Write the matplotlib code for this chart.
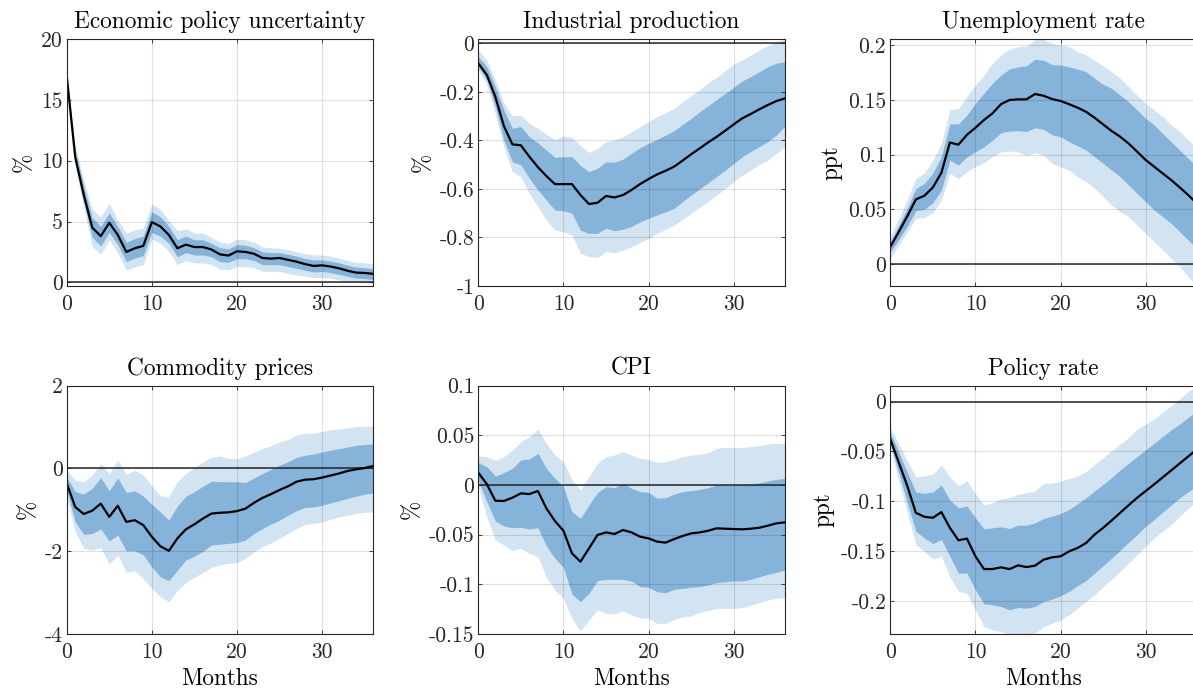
import matplotlib
matplotlib.use("Agg")
import matplotlib.pyplot as plt
from matplotlib.ticker import FuncFormatter
import numpy as np

plt.rcParams['font.family'] = 'cmr10'
plt.rcParams['axes.unicode_minus'] = False
plt.rcParams['mathtext.fontset'] = 'cm'

months = np.arange(37)

# Economic policy uncertainty
epu_med = [17.0, 10.3, 7.2, 4.5, 3.8, 4.9, 3.9, 2.5, 2.8, 3.0, 4.95, 4.6, 3.9, 2.8, 3.1, 2.9, 2.9,
           2.7, 2.3, 2.2, 2.55, 2.5, 2.35, 2.0, 1.95, 2.0, 1.85, 1.7, 1.5, 1.35, 1.4, 1.3, 1.15,
           0.95, 0.8, 0.77, 0.7]
epu_d_lo = [17.0, 9.8, 6.6, 3.7, 3.0, 4.1, 3.1, 1.7, 2.0, 2.2, 4.1, 3.8, 3.2, 2.1, 2.45, 2.25, 2.25,
            2.1, 1.7, 1.65, 1.95, 1.95, 1.8, 1.45, 1.45, 1.45, 1.3, 1.15, 1.0, 0.85, 0.9, 0.8, 0.65,
            0.5, 0.35, 0.3, 0.25]
epu_d_hi = [17.0, 10.9, 7.9, 5.3, 4.6, 5.7, 4.6, 3.3, 3.6, 3.8, 5.8, 5.4, 4.6, 3.5, 3.8, 3.5, 3.5,
            3.2, 2.85, 2.75, 3.1, 3.05, 2.85, 2.5, 2.45, 2.45, 2.3, 2.15, 1.95, 1.85, 1.85, 1.75, 1.6,
            1.4, 1.25, 1.2, 1.1]
epu_l_lo = [17.0, 9.5, 6.2, 2.95, 2.3, 3.5, 2.4, 1.0, 1.3, 1.45, 3.55, 3.2, 2.55, 1.45, 1.8, 1.6, 1.6,
            1.45, 1.1, 1.05, 1.3, 1.3, 1.2, 0.9, 0.9, 0.9, 0.75, 0.6, 0.5, 0.4, 0.4, 0.35, 0.2,
            0.1, 0.0, -0.05, -0.1]
epu_l_hi = [17.0, 11.2, 8.4, 6.0, 5.4, 6.5, 5.1, 4.05, 4.3, 4.45, 6.45, 6.0, 5.1, 4.25, 4.4, 4.05, 4.05,
            3.7, 3.3, 3.2, 3.55, 3.5, 3.3, 2.9, 2.85, 2.8, 2.7, 2.5, 2.35, 2.25, 2.25, 2.15, 2.0,
            1.8, 1.65, 1.6, 1.5]

# Industrial production
ip_med = [-0.082, -0.13, -0.22, -0.34, -0.416, -0.42, -0.467, -0.51, -0.547, -0.58, -0.58, -0.58,
          -0.625, -0.662, -0.657, -0.629, -0.635, -0.625, -0.604, -0.58, -0.559, -0.54, -0.525,
          -0.508, -0.483, -0.457, -0.433, -0.408, -0.385, -0.36, -0.334, -0.309, -0.291, -0.272,
          -0.254, -0.238, -0.227]
ip_d_lo = [-0.096, -0.151, -0.26, -0.398, -0.488, -0.501, -0.556, -0.604, -0.646, -0.687, -0.69,
           -0.70, -0.77, -0.783, -0.783, -0.762, -0.772, -0.766, -0.755, -0.735, -0.721, -0.707,
           -0.694, -0.68, -0.652, -0.625, -0.60, -0.574, -0.549, -0.522, -0.495, -0.467, -0.446,
           -0.426, -0.405, -0.378, -0.341]
ip_d_hi = [-0.055, -0.096, -0.18, -0.275, -0.35, -0.343, -0.385, -0.41, -0.44, -0.47, -0.467,
           -0.467, -0.504, -0.529, -0.515, -0.488, -0.49, -0.477, -0.453, -0.43, -0.412, -0.396,
           -0.378, -0.36, -0.334, -0.309, -0.282, -0.257, -0.231, -0.206, -0.181, -0.155, -0.137,
           -0.117, -0.096, -0.082, -0.076]
ip_l_lo = [-0.11, -0.17, -0.29, -0.426, -0.529, -0.55, -0.618, -0.673, -0.728, -0.77, -0.776,
           -0.79, -0.865, -0.879, -0.882, -0.858, -0.862, -0.852, -0.838, -0.821, -0.804, -0.783,
           -0.766, -0.749, -0.725, -0.70, -0.676, -0.651, -0.625, -0.598, -0.57, -0.543, -0.522,
           -0.499, -0.481, -0.453, -0.426]
ip_l_hi = [-0.027, -0.069, -0.151, -0.247, -0.298, -0.295, -0.33, -0.35, -0.375, -0.398, -0.382,
           -0.387, -0.422, -0.45, -0.433, -0.405, -0.398, -0.385, -0.364, -0.343, -0.323, -0.302,
           -0.286, -0.268, -0.24, -0.216, -0.19, -0.162, -0.14, -0.113, -0.085, -0.069, -0.048,
           -0.027, -0.01, 0.007, 0.016]

# Unemployment rate
ur_med = [0.0158, 0.0295, 0.0438, 0.059, 0.0624, 0.070, 0.0834, 0.111, 0.109, 0.118, 0.1245,
          0.1315, 0.1376, 0.146, 0.1498, 0.1504, 0.1504, 0.1553, 0.1537, 0.1507, 0.1489, 0.146,
          0.1428, 0.139, 0.1336, 0.1275, 0.1215, 0.1163, 0.110, 0.1026, 0.095, 0.0889, 0.0828,
          0.0767, 0.070, 0.063, 0.0554]
ur_d_lo = [0.0113, 0.0225, 0.0347, 0.0487, 0.050, 0.056, 0.0676, 0.095, 0.0904, 0.098, 0.1026,
           0.107, 0.113, 0.12, 0.1215, 0.1218, 0.121, 0.1245, 0.123, 0.118, 0.1163, 0.1117, 0.108,
           0.104, 0.098, 0.092, 0.0858, 0.0798, 0.0721, 0.0645, 0.0569, 0.0493, 0.0432, 0.0371,
           0.0295, 0.0219, 0.0143]
ur_d_hi = [0.0204, 0.0356, 0.0508, 0.069, 0.0737, 0.083, 0.098, 0.128, 0.128, 0.136, 0.1467,
           0.156, 0.165, 0.1726, 0.178, 0.180, 0.181, 0.187, 0.186, 0.182, 0.1817, 0.180, 0.178,
           0.1756, 0.1696, 0.164, 0.1604, 0.1543, 0.148, 0.1406, 0.133, 0.127, 0.119, 0.1117,
           0.104, 0.0965, 0.0889]
ur_l_lo = [0.0052, 0.0174, 0.0295, 0.0417, 0.0426, 0.0469, 0.0584, 0.083, 0.078, 0.0843, 0.0889,
           0.0928, 0.098, 0.1026, 0.1032, 0.1026, 0.099, 0.1017, 0.0995, 0.092, 0.0889, 0.0858,
           0.0798, 0.0752, 0.0691, 0.0615, 0.0539, 0.0478, 0.0432, 0.0356, 0.028, 0.0204, 0.0128,
           0.0052, -0.0024, -0.0116, -0.0207]
ur_l_hi = [0.025, 0.0417, 0.059, 0.078, 0.083, 0.095, 0.110, 0.141, 0.142, 0.153, 0.1635, 0.1726,
           0.1833, 0.191, 0.196, 0.1985, 0.199, 0.205, 0.205, 0.2015, 0.2, 0.1985, 0.194, 0.191,
           0.186, 0.181, 0.1756, 0.1696, 0.162, 0.154, 0.1467, 0.1406, 0.1345, 0.127, 0.121,
           0.113, 0.107]

# Commodity prices
cp_med = [-0.36, -0.93, -1.10, -1.02, -0.85, -1.17, -0.90, -1.29, -1.25, -1.37, -1.65, -1.88,
          -1.99, -1.69, -1.47, -1.35, -1.21, -1.09, -1.07, -1.06, -1.03, -0.97, -0.83, -0.71,
          -0.62, -0.52, -0.43, -0.32, -0.27, -0.26, -0.22, -0.17, -0.12, -0.06, -0.02, 0.01, 0.06]
cp_d_lo = [-0.52, -1.29, -1.59, -1.57, -1.46, -1.75, -1.61, -1.99, -1.99, -2.09, -2.38, -2.62,
           -2.71, -2.46, -2.21, -2.12, -2.0, -1.85, -1.83, -1.81, -1.79, -1.73, -1.57, -1.45,
           -1.34, -1.25, -1.13, -1.02, -0.94, -0.93, -0.89, -0.83, -0.78, -0.72, -0.67, -0.62,
           -0.59]
cp_d_hi = [-0.2, -0.56, -0.62, -0.48, -0.22, -0.54, -0.23, -0.58, -0.54, -0.67, -0.87, -1.05,
           -1.25, -0.91, -0.67, -0.56, -0.43, -0.31, -0.32, -0.32, -0.32, -0.34, -0.23, -0.12,
           -0.02, 0.08, 0.16, 0.27, 0.32, 0.35, 0.40, 0.44, 0.48, 0.52, 0.56, 0.58, 0.59]
cp_l_lo = [-0.68, -1.53, -1.93, -1.97, -1.91, -2.31, -2.09, -2.51, -2.47, -2.66, -2.90, -3.10,
           -3.22, -2.95, -2.75, -2.63, -2.51, -2.39, -2.33, -2.29, -2.28, -2.17, -2.01, -1.89,
           -1.80, -1.69, -1.57, -1.45, -1.35, -1.33, -1.29, -1.23, -1.17, -1.13, -1.09, -1.06,
           -1.05]
cp_l_hi = [-0.04, -0.28, -0.32, -0.16, 0.12, -0.12, 0.2, -0.14, -0.04, -0.16, -0.42, -0.66, -0.68,
           -0.32, -0.12, 0.02, 0.16, 0.27, 0.30, 0.24, 0.24, 0.30, 0.39, 0.48, 0.55, 0.64, 0.70,
           0.81, 0.85, 0.85, 0.89, 0.94, 0.95, 0.98, 1.01, 1.02, 1.02]

# CPI
cpi_med = [0.0124, 0.001, -0.0158, -0.0161, -0.0128, -0.0084, -0.0091, -0.006, -0.0235, -0.0362,
           -0.046, -0.0688, -0.0772, -0.0638, -0.0503, -0.0477, -0.0493, -0.0453, -0.0477, -0.052,
           -0.0537, -0.057, -0.058, -0.0544, -0.0513, -0.0487, -0.0477, -0.046, -0.0436, -0.044,
           -0.0443, -0.0446, -0.044, -0.043, -0.041, -0.0386, -0.0376]
cpi_d_lo = [0.0044, -0.0168, -0.0362, -0.0413, -0.043, -0.0426, -0.0443, -0.043, -0.0614,
            -0.0738, -0.0829, -0.1097, -0.1174, -0.109, -0.0963, -0.095, -0.095, -0.095, -0.0966,
            -0.1023, -0.103, -0.1074, -0.1084, -0.105, -0.104, -0.103, -0.1023, -0.1007, -0.0983,
            -0.0973, -0.0966, -0.0966, -0.095, -0.0923, -0.0899, -0.0879, -0.0856]
cpi_d_hi = [0.0225, 0.0185, 0.009, 0.0124, 0.0168, 0.0252, 0.0262, 0.0319, 0.0168, 0.0067,
            -0.0017, -0.0268, -0.0336, -0.0201, -0.0077, -0.0017, -0.0027, 0.0017, -0.0034,
            -0.0067, -0.0074, -0.0134, -0.0128, -0.0091, -0.0067, -0.0057, -0.0044, -0.0027, 0.0,
            0.0, 0.0, 0.0007, 0.001, 0.0023, 0.004, 0.0057, 0.0067]
cpi_l_lo = [-0.0017, -0.0319, -0.0554, -0.0604, -0.0661, -0.0638, -0.0688, -0.0721, -0.093,
            -0.1057, -0.1141, -0.1342, -0.147, -0.1359, -0.1258, -0.1292, -0.1299, -0.1265,
            -0.1309, -0.1336, -0.1342, -0.1393, -0.1393, -0.1352, -0.1326, -0.1319, -0.1282,
            -0.1265, -0.1242, -0.1242, -0.1242, -0.1235, -0.1208, -0.1185, -0.1158, -0.1141,
            -0.1134]
cpi_l_hi = [0.0292, 0.0285, 0.0245, 0.0285, 0.0352, 0.0436, 0.0487, 0.056, 0.0419, 0.0302,
            0.0235, 0.005, -0.005, 0.0084, 0.0218, 0.0285, 0.0302, 0.0336, 0.0302, 0.0268, 0.0258,
            0.0225, 0.0235, 0.0258, 0.0285, 0.0302, 0.0309, 0.0326, 0.0369, 0.0379, 0.0379,
            0.0379, 0.0386, 0.0396, 0.0413, 0.0419, 0.0419]

# Policy rate
pr_med = [-0.0376, -0.0612, -0.0847, -0.1116, -0.1156, -0.1166, -0.1109, -0.1267, -0.1392,
          -0.1375, -0.1553, -0.1681, -0.1681, -0.1664, -0.1681, -0.1644, -0.1661, -0.1647,
          -0.1587, -0.1563, -0.1553, -0.1503, -0.1469, -0.1419, -0.1334, -0.1267, -0.1193,
          -0.1116, -0.1039, -0.0965, -0.0897, -0.083, -0.076, -0.069, -0.062, -0.055, -0.048]
pr_d_lo = [-0.0427, -0.0713, -0.1015, -0.1301, -0.1368, -0.1425, -0.1385, -0.1553, -0.1721,
           -0.1721, -0.1889, -0.203, -0.204, -0.2057, -0.2091, -0.2067, -0.2074, -0.2057, -0.2007,
           -0.1983, -0.195, -0.1906, -0.1849, -0.1795, -0.1721, -0.1647, -0.157, -0.1492, -0.1412,
           -0.1334, -0.125, -0.1183, -0.1109, -0.1039, -0.0965, -0.0904, -0.0847]
pr_d_hi = [-0.031, -0.051, -0.071, -0.0908, -0.0921, -0.0908, -0.0837, -0.0988, -0.1066,
           -0.1049, -0.1166, -0.1277, -0.1267, -0.1257, -0.1274, -0.124, -0.124, -0.1217, -0.1173,
           -0.115, -0.1123, -0.1082, -0.1025, -0.0965, -0.0897, -0.083, -0.0763, -0.0686, -0.0618,
           -0.0551, -0.0484, -0.0417, -0.035, -0.0282, -0.0225, -0.0158, -0.0091]
pr_l_lo = [-0.046, -0.0797, -0.1116, -0.1435, -0.1503, -0.158, -0.1553, -0.1755, -0.1906,
           -0.1923, -0.2091, -0.2259, -0.2292, -0.2309, -0.2343, -0.2326, -0.2343, -0.2326,
           -0.2259, -0.2225, -0.2192, -0.2141, -0.2074, -0.2007, -0.194, -0.1855, -0.1782,
           -0.1704, -0.162, -0.1536, -0.1452, -0.1368, -0.1301, -0.1234, -0.115, -0.1072, -0.0998]
pr_l_hi = [-0.0259, -0.0427, -0.0595, -0.0756, -0.0746, -0.0729, -0.0635, -0.0756, -0.0847,
           -0.0797, -0.0924, -0.1039, -0.1015, -0.0975, -0.0965, -0.0931, -0.0914, -0.0897,
           -0.082, -0.082, -0.0797, -0.0773, -0.0746, -0.0703, -0.0629, -0.0561, -0.0494, -0.0427,
           -0.036, -0.0276, -0.0225, -0.0175, -0.0108, -0.004, 0.0027, 0.0101, 0.0161]

titles = ['Economic policy uncertainty', 'Industrial production', 'Unemployment rate',
          'Commodity prices', 'CPI', 'Policy rate']
units = ['%', '%', 'ppt', '%', '%', 'ppt']

panels = [
    (epu_med, epu_l_lo, epu_l_hi, epu_d_lo, epu_d_hi, (-0.3, 20), [0, 5, 10, 15, 20]),
    (ip_med, ip_l_lo, ip_l_hi, ip_d_lo, ip_d_hi, (-1, 0.018), [-1, -0.8, -0.6, -0.4, -0.2, 0]),
    (ur_med, ur_l_lo, ur_l_hi, ur_d_lo, ur_d_hi, (-0.02, 0.2055), [0, 0.05, 0.1, 0.15, 0.2]),
    (cp_med, cp_l_lo, cp_l_hi, cp_d_lo, cp_d_hi, (-4, 2), [-4, -2, 0, 2]),
    (cpi_med, cpi_l_lo, cpi_l_hi, cpi_d_lo, cpi_d_hi, (-0.15, 0.1),
     [-0.15, -0.1, -0.05, 0, 0.05, 0.1]),
    (pr_med, pr_l_lo, pr_l_hi, pr_d_lo, pr_d_hi, (-0.2333, 0.016), [-0.2, -0.15, -0.1, -0.05, 0]),
]

light_col = '#d2e3f1'
dark_col = '#86b3da'


def fmt(v, pos):
    v = round(v, 6)
    if v == 0:
        return '0'
    return '{:g}'.format(v)


fig = plt.figure(figsize=(11.93, 6.91), dpi=100)

lefts = [66.7, 478.3, 890.3]
width = 306.5
rows = [(39, 286), (385.7, 634)]
W, H = 1193.0, 691.0

for i, (med, llo, lhi, dlo, dhi, ylim, yt) in enumerate(panels):
    r, c = divmod(i, 3)
    top, bot = rows[r]
    ax = fig.add_axes([lefts[c] / W, 1 - bot / H, width / W, (bot - top) / H])
    ax.fill_between(months, llo, lhi, color=light_col, linewidth=0, zorder=1)
    ax.fill_between(months, dlo, dhi, color=dark_col, linewidth=0, zorder=2)
    ax.axhline(0, color='#262626', linewidth=1.1, zorder=3)
    ax.plot(months, med, color='black', linewidth=1.6, zorder=4)
    ax.set_xlim(0, 36)
    ax.set_ylim(*ylim)
    ax.set_xticks([0, 10, 20, 30])
    ax.set_yticks(yt)
    ax.yaxis.set_major_formatter(FuncFormatter(fmt))
    # grid sits over the bands, faint, as in the original
    ax.set_axisbelow(False)
    ax.grid(True, color='black', alpha=0.12, linewidth=0.8)
    ax.tick_params(direction='in', length=3, width=0.6, colors='#262626', labelsize=15.5,
                   top=True, right=True, pad=3)
    ax.tick_params(axis='x', pad=6)
    for s in ax.spines.values():
        s.set_color('#262626')
        s.set_linewidth(0.8)
        s.set_zorder(5)
    ax.set_title(titles[i], fontsize=16.8, pad=8)
    ax.set_ylabel(units[i], fontsize=16.7, labelpad=4)
    if r == 1:
        ax.set_xlabel('Months', fontsize=16.7, labelpad=4)

fig.savefig('out.png', dpi=100)
